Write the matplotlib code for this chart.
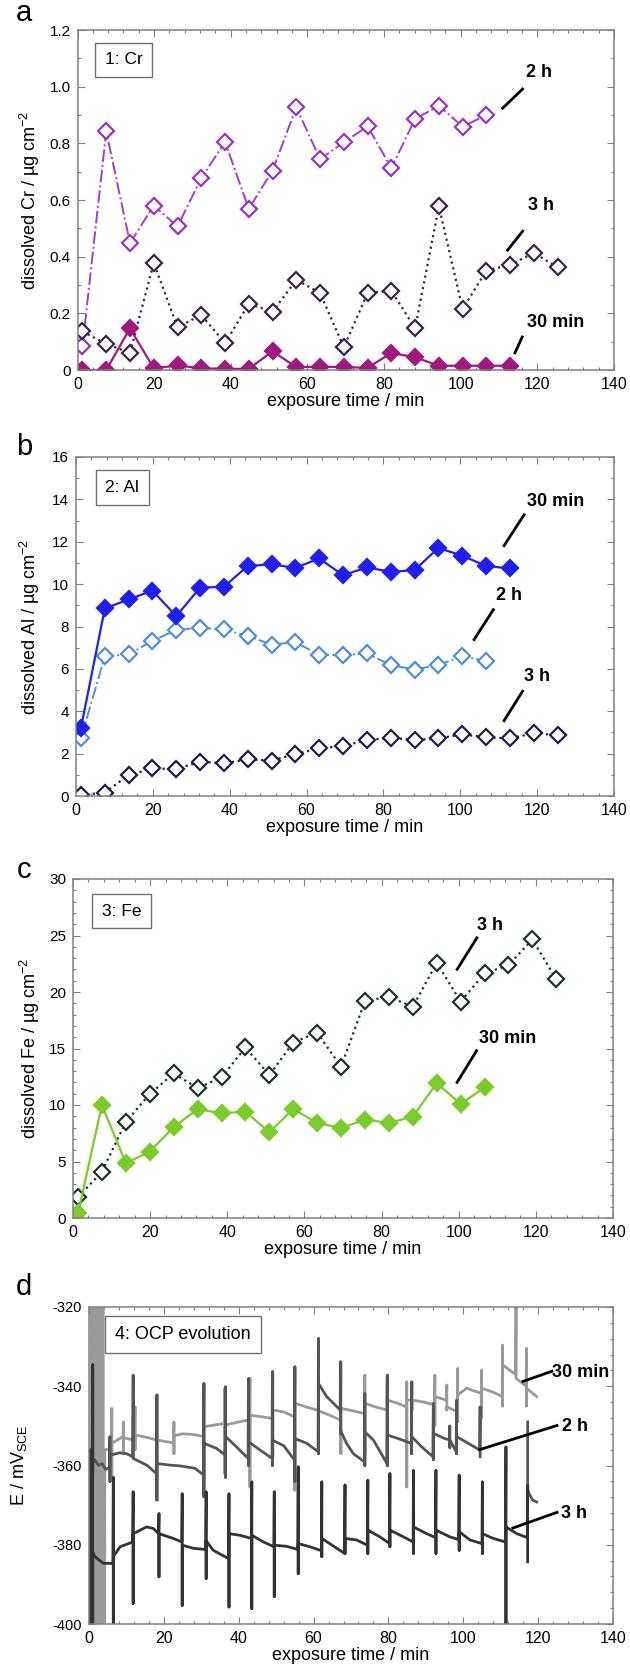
import numpy as np
import matplotlib
matplotlib.use('Agg')
import matplotlib.pyplot as plt
from matplotlib.ticker import MultipleLocator

plt.rcParams['font.family'] = ['Liberation Sans', 'DejaVu Sans']
plt.rcParams['mathtext.default'] = 'regular'

# sampling times (min), shared by the ICP-OES panels
t_sample = [1.3, 7.5, 13.7, 19.9, 26.1, 32.3, 38.5, 44.7, 50.9, 57.1, 63.3,
            69.5, 75.7, 81.9, 88.1, 94.3, 100.5, 106.7, 112.9, 119.1, 125.3]

# panel a: Cr
cr_2h = [0.084, 0.842, 0.448, 0.58, 0.507, 0.677, 0.805, 0.569, 0.704, 0.927,
         0.744, 0.804, 0.86, 0.713, 0.886, 0.933, 0.859, 0.9]
cr_3h = [0.136, 0.092, 0.06, 0.378, 0.151, 0.194, 0.095, 0.233, 0.206, 0.318,
         0.272, 0.08, 0.272, 0.28, 0.147, 0.578, 0.215, 0.351, 0.371, 0.413, 0.362]
cr_30 = [0.0, 0.0, 0.147, 0.006, 0.016, 0.006, 0.004, 0.004, 0.066, 0.01,
         0.012, 0.01, 0.008, 0.06, 0.045, 0.015, 0.015, 0.015, 0.015]

# panel b: Al
al_30 = [3.22, 8.85, 9.28, 9.69, 8.49, 9.84, 9.87, 10.86, 10.93, 10.77, 11.21,
         10.42, 10.79, 10.58, 10.66, 11.71, 11.34, 10.86, 10.74]
al_2h = [2.72, 6.6, 6.68, 7.33, 7.83, 7.94, 7.86, 7.55, 7.15, 7.25, 6.67, 6.65,
         6.73, 6.18, 5.97, 6.18, 6.6, 6.37]
al_3h = [0.05, 0.16, 0.99, 1.3, 1.27, 1.62, 1.54, 1.73, 1.67, 1.98, 2.25, 2.36,
         2.64, 2.75, 2.64, 2.72, 2.91, 2.77, 2.72, 2.96, 2.88]

# panel c: Fe
fe_30 = [0.4, 10.0, 4.85, 5.88, 8.03, 9.65, 9.26, 9.41, 7.59, 9.65, 8.41, 7.97,
         8.71, 8.41, 8.97, 11.94, 10.09, 11.56]
fe_3h = [1.85, 4.09, 8.5, 10.97, 12.79, 11.5, 12.44, 15.09, 12.65, 15.53, 16.41,
         13.38, 19.2, 19.59, 18.68, 22.59, 19.15, 21.65, 22.38, 24.65, 21.12]

# panel d: OCP traces, (min, mV vs SCE)
ocp_30 = [
    (0.6, -316), (0.6, -404), (1.0, -404), (1.0, -316), (1.4, -316), (1.4, -404),
    (1.8, -404), (1.8, -316), (2.2, -316), (2.2, -404), (2.6, -404), (2.6, -316),
    (3.0, -316), (3.0, -404), (3.4, -404), (3.4, -316), (3.8, -316), (3.8, -404),
    (4.2, -404), (4.2, -356), (5.9, -356),
    (6.1, -345.6), (6.1, -363.7), (6.1, -354.4), (9.1, -352.7),
    (9.2, -349), (9.2, -357), (9.2, -353), (12.2, -353.6),
    (12.3, -345.2), (12.3, -356), (12.3, -352.3), (15.0, -352.8), (18.2, -353.6),
    (18.3, -342.2), (18.3, -368.7), (18.3, -353.6), (22.6, -354.3),
    (22.7, -349), (22.7, -357), (22.7, -352.5), (25.0, -352), (28.0, -352.2), (30.6, -352.7),
    (30.7, -339.3), (30.7, -367), (30.7, -350.2), (33.5, -349.8), (36.2, -349.4),
    (36.3, -340.5), (36.3, -362), (36.3, -349.8), (40.0, -349), (42.9, -348.5),
    (43.0, -338), (43.0, -365.4), (43.0, -347.3), (46.0, -347.7), (49.0, -348.1),
    (49.1, -336.3), (49.1, -358), (49.1, -346), (52.0, -346.5), (54.9, -347.7),
    (55.0, -335.1), (55.0, -366.2), (55.0, -344.3), (58.0, -345.2), (60.8, -346),
    (64.0, -347.2), (67.2, -348.5),
    (67.3, -334), (67.3, -357), (67.3, -345.6), (70.5, -346.2), (73.6, -346.9),
    (73.7, -337.2), (73.7, -357), (73.7, -344.3), (76.5, -345.2), (79.6, -346),
    (79.7, -337.2), (79.7, -360), (79.7, -343.5), (82.5, -344.3), (84.8, -345.2),
    (84.9, -338.9), (84.9, -365.4), (84.9, -343.5), (86.2, -343.5),
    (86.3, -338.9), (86.3, -346), (86.3, -343.5), (89.5, -344), (92.3, -344.7),
    (92.4, -337.2), (92.4, -350), (92.4, -342.6), (95.5, -343.5),
    (95.6, -339.7), (95.6, -346), (95.6, -345.2), (98.4, -346.4),
    (98.5, -335.5), (98.5, -349), (98.5, -342.2), (100.9, -340.5), (104.8, -341.8),
    (104.9, -335.9), (104.9, -348), (104.9, -340.5), (108.0, -341.5), (110.4, -342.6),
    (110.5, -329.6), (110.5, -345), (110.5, -334.6), (112.9, -336.3), (114.0, -337),
    (114.1, -316), (114.1, -338), (116.8, -340),
    (116.9, -330.4), (116.9, -345), (116.9, -340.5), (119.6, -342.6)]

ocp_2h = [
    (0.4, -360), (1.5, -358.5), (2.5, -360), (3.5, -359.5), (4.5, -361), (5.5, -360.5),
    (5.6, -352.7), (5.6, -364), (5.6, -357.4), (8.2, -356.8), (10.0, -357), (11.7, -357.8),
    (11.8, -337.2), (11.8, -358), (11.8, -358.2), (15.4, -359.9), (18.0, -362),
    (18.1, -342.2), (18.1, -368.7), (18.1, -359.5), (21.6, -359.9), (24.3, -360.1),
    (28.3, -360.7), (30.6, -362.4),
    (30.7, -339.3), (30.7, -367.9), (30.7, -354.4), (34.1, -355.7), (36.4, -357.4),
    (36.5, -340.1), (36.5, -363), (36.5, -352.7), (39.4, -355.3), (42.5, -358.2),
    (42.6, -338), (42.6, -360), (42.6, -354), (45.7, -356.1), (48.9, -358.2),
    (49.0, -336.3), (49.0, -360), (49.0, -353.6), (52.0, -355), (54.9, -358.6),
    (55.0, -335.1), (55.0, -364), (55.0, -353.2), (58.2, -354.4), (61.2, -356.5),
    (61.3, -327.9), (61.3, -357), (61.3, -339.3), (63.5, -342.6), (65.3, -344.3), (67.1, -346),
    (67.2, -333.8), (67.2, -352), (67.2, -351.1), (68.8, -354.4), (70.6, -357), (73.6, -359.1),
    (73.7, -341.8), (73.7, -360), (73.7, -351.5), (76.0, -353.6), (79.6, -359.5),
    (79.7, -337.2), (79.7, -360), (79.7, -352.3), (82.6, -353.2), (86.1, -354.4),
    (86.2, -338.9), (86.2, -357), (86.2, -352.7), (88.9, -355.3), (91.9, -357.8),
    (92.0, -344.3), (92.0, -358.5), (92.0, -351.9), (95.0, -353.2), (96.3, -353.5),
    (96.4, -350), (96.4, -355.5), (96.4, -353.5), (98.1, -356.5),
    (98.2, -343.5), (98.2, -357), (98.2, -352.7), (101.5, -354.5), (104.4, -356.1),
    (104.5, -345.2), (104.5, -357.8),
    (np.nan, np.nan),
    (117.2, -349), (117.2, -366), (117.6, -367.1), (118.5, -368.7), (119.6, -369.2)]

ocp_3h = [
    (0.3, -356), (0.3, -404), (0.6, -404), (0.6, -362), (1.0, -362), (1.0, -334.6),
    (1.0, -404), (1.0, -382), (1.6, -383), (3.8, -384.7), (6.4, -384.7),
    (6.5, -363), (6.5, -404), (6.5, -383), (8.3, -380.5), (11.7, -379.3),
    (11.8, -366.6), (11.8, -394.8), (11.8, -377.2), (15.4, -375.5), (17.2, -375.9), (18.6, -377.2),
    (18.7, -372.1), (18.7, -388.1), (18.7, -377.2), (22.5, -378.4), (24.8, -379.3),
    (24.9, -367.1), (24.9, -395.3), (24.9, -380.1), (27.9, -380.9), (31.2, -381.2),
    (31.3, -366.6), (31.3, -388.5), (31.3, -379), (33.2, -381.4), (37.3, -383.5),
    (37.4, -367.1), (37.4, -395.7), (37.4, -377.2), (40.3, -377.6), (43.4, -378.4),
    (43.5, -364.1), (43.5, -396.1), (43.5, -377.6), (46.6, -379.3), (49.4, -380.5),
    (49.5, -366.6), (49.5, -393.1), (49.5, -380.1), (52.8, -380.4), (55.8, -381.2),
    (55.9, -360.3), (55.9, -387.3), (55.9, -379.7), (59.0, -380.5), (62.1, -381.5),
    (62.2, -364.1), (62.2, -383), (62.2, -378.4), (66.2, -380.9), (68.3, -382.2),
    (68.4, -364.9), (68.4, -382.2), (68.4, -378.4), (71.5, -378.8), (74.4, -380.1),
    (74.5, -363.7), (74.5, -382.2), (74.5, -376.3), (77.7, -378), (80.3, -379.7),
    (80.4, -362), (80.4, -380.5), (80.4, -376.3), (84.0, -378), (86.6, -379.3),
    (86.7, -361.2), (86.7, -382.2), (86.7, -375.5), (90.2, -377.2), (92.6, -378.2),
    (92.7, -361.2), (92.7, -382.2), (92.7, -376.3), (96.4, -378), (98.8, -378.7),
    (98.9, -362.4), (98.9, -381.4), (98.9, -376.7), (101.8, -378.8), (105.0, -379.7),
    (105.1, -364.1), (105.1, -382.2), (105.1, -377.2), (108.0, -378.4), (111.3, -379.3),
    (111.4, -355.3), (111.4, -404), (111.4, -375.5), (114.3, -377.2), (117.1, -378.2),
    (117.2, -365), (117.2, -384.3)]

x_ticks = [0, 20, 40, 60, 80, 100, 120, 140]
x_tick_labels = ['0', '20', '40', '60', '80', '100', '120', '140']
cr_ticks = [0, 0.2, 0.4, 0.6, 0.8, 1.0, 1.2]
cr_tick_labels = ['0', '0.2', '0.4', '0.6', '0.8', '1.0', '1.2']
al_ticks = [0, 2, 4, 6, 8, 10, 12, 14, 16]
fe_ticks = [0, 5, 10, 15, 20, 25, 30]
ocp_ticks = [-400, -380, -360, -340, -320]
ocp_tick_labels = ['-400', '-380', '-360', '-340', '-320']

W, H = 630, 1673
fig = plt.figure(figsize=(W / 100, H / 100), dpi=100)


def px_axes(l, r, t, b):
    return fig.add_axes([l / W, 1 - b / H, (r - l) / W, (b - t) / H])


frame = '#808080'


def style(ax, ymaj, ymin, yticklabels, ylab, ylab_x, yfs=11):
    ax.set_xlim(0, 140)
    ax.set_xticks(x_ticks)
    ax.set_xticklabels(x_tick_labels)
    ax.xaxis.set_minor_locator(MultipleLocator(4))
    ax.set_yticks(ymaj)
    ax.set_yticklabels(yticklabels)
    ax.yaxis.set_minor_locator(MultipleLocator(ymin))
    ax.set_ylim(ymaj[0], ymaj[-1])
    ax.tick_params(which='both', direction='in', top=True, right=True,
                   color=frame, width=0.8)
    ax.tick_params(which='major', length=5)
    ax.tick_params(which='minor', length=2.5)
    ax.tick_params(axis='x', labelsize=11.5, pad=5)
    ax.tick_params(axis='y', labelsize=yfs, pad=5)
    for s in ax.spines.values():
        s.set_color(frame)
        s.set_linewidth(1.1)
    ax.set_xlabel('exposure time / min', fontsize=13, labelpad=1)
    ax.set_ylabel(ylab, fontsize=13)
    ax.yaxis.set_label_coords(ylab_x, 0.5)


def tag(ax, text, x, y, tx, ty, ha='center'):
    ax.plot(x, y, color='black', lw=2, solid_capstyle='butt')
    ax.text(tx, ty, text, fontsize=13, fontweight='bold', ha=ha, va='center')


def box(ax, text, x, y, ha='center', fs=12.5):
    ax.text(x, y, text, transform=ax.transAxes, fontsize=fs, ha=ha, va='center',
            bbox=dict(boxstyle='square,pad=0.55', fc='white', ec='#707070', lw=1))


mk = dict(marker='D', markersize=8, markeredgewidth=1.6)

# ---- a: Cr
ax = px_axes(77.5, 614, 30, 370)
ax.plot(t_sample[:len(cr_2h)], cr_2h, ls='-.', lw=1.4, color='#a23fc9',
        mfc='white', mec='#9b32c4', **mk)
ax.plot(t_sample[:len(cr_3h)], cr_3h, ls=':', lw=1.6, color='#3a2448',
        mfc='white', mec='#3a2448', **mk)
ax.plot(t_sample[:len(cr_30)], cr_30, ls='-', lw=1.6, color='#a01880',
        mfc='#a01880', mec='#a01880', **mk)
style(ax, cr_ticks, 0.1, cr_tick_labels, 'dissolved Cr / µg cm$^{-2}$', -0.066)
box(ax, '1: Cr', 0.086, 0.913)
tag(ax, '2 h', [110.7, 116.4], [0.921, 0.995], 120.5, 1.05)
tag(ax, '3 h', [112.0, 116.4], [0.419, 0.494], 121.0, 0.58)
tag(ax, '30 min', [114.0, 116.2], [0.056, 0.121], 124.8, 0.168)

# ---- b: Al
ax = px_axes(76, 614, 457, 796)
ax.plot(t_sample[:len(al_2h)], al_2h, ls='-.', lw=1.4, color='#4f8fd6',
        mfc='white', mec='#4f8fd6', **mk)
ax.plot(t_sample[:len(al_3h)], al_3h, ls=':', lw=1.6, color='#1c1c4e',
        mfc='white', mec='#1c1c4e', **mk)
ax.plot(t_sample[:len(al_30)], al_30, ls='-', lw=1.6, color='#1f1ff0',
        mfc='#1f1ff0', mec='#1f1ff0', **mk)
style(ax, al_ticks, 1, [str(v) for v in al_ticks], 'dissolved Al / µg cm$^{-2}$', -0.063)
box(ax, '2: Al', 0.086, 0.91)
tag(ax, '30 min', [111.2, 116.8], [11.76, 13.33], 124.8, 13.9)
tag(ax, '2 h', [103.4, 108.8], [7.33, 8.85], 112.6, 9.48)
tag(ax, '3 h', [111.2, 116.4], [3.5, 5.0], 120.0, 5.63)

# ---- c: Fe
ax = px_axes(73, 613, 879, 1218)
ax.plot(t_sample[:len(fe_3h)], fe_3h, ls=':', lw=1.6, color='#1d3326',
        mfc='white', mec='#1d3326', **mk)
ax.plot(t_sample[:len(fe_30)], fe_30, ls='-', lw=1.6, color='#7acc2a',
        mfc='#7acc2a', mec='#7acc2a', **mk)
style(ax, fe_ticks, 1, [str(v) for v in fe_ticks], 'dissolved Fe / µg cm$^{-2}$', -0.057)
box(ax, '3: Fe', 0.09, 0.905)
tag(ax, '3 h', [99.4, 104.9], [21.9, 24.9], 108.0, 25.9)
tag(ax, '30 min', [99.4, 104.8], [11.9, 14.9], 112.6, 15.9)

# ---- d: OCP
ax = px_axes(89, 613, 1307, 1624)
for trace, col in [(ocp_30, '#9a9a9a'), (ocp_2h, '#555555'), (ocp_3h, '#333333')]:
    tt, ee = zip(*trace)
    ax.plot(tt, ee, color=col, lw=2)
style(ax, ocp_ticks, 4, ocp_tick_labels, 'E / mV$_{SCE}$', -0.115, yfs=10.5)
box(ax, '4: OCP evolution', 0.05, 0.912, ha='left', fs=13)
tag(ax, '30 min', [115.6, 124.0], [-338.9, -336.1], 123.6, -336.6, ha='left')
tag(ax, '2 h', [104.0, 125.4], [-356.1, -349.8], 126.4, -350.2, ha='left')
tag(ax, '3 h', [112.9, 125.4], [-375.9, -371.7], 126.0, -372.1, ha='left')

for letter, y in [('a', 13), ('b', 447), ('c', 870), ('d', 1287)]:
    fig.text(24 / W, 1 - y / H, letter, fontsize=21, ha='center', va='center')

fig.savefig('out.png', dpi=100)
